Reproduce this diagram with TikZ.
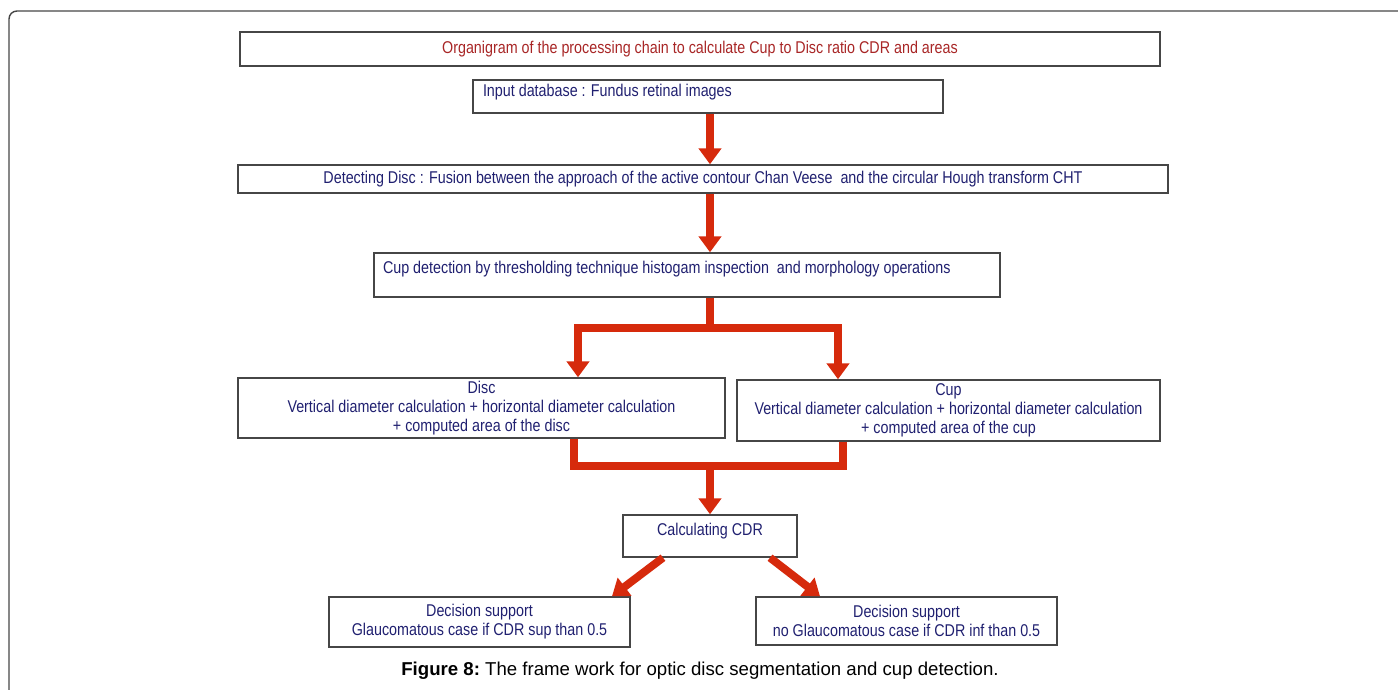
\documentclass[tikz,border=0pt]{standalone}
\usepackage{fontspec}
\setmainfont{Liberation Sans}
\newfontfamily\boxfont[FakeStretch=0.84]{Liberation Sans}
\usetikzlibrary{arrows.meta}

\definecolor{flowred}{RGB}{214,42,12}
\definecolor{titlered}{RGB}{168,38,38}
\definecolor{boxblue}{RGB}{32,32,112}
\definecolor{framegray}{RGB}{70,70,70}

\tikzset{
  box/.style={draw=framegray, line width=0.8pt, inner sep=0pt, align=center,
    text=boxblue, font=\boxfont\fontsize{9.7}{10.8}\selectfont},
  flowline/.style={draw=flowred, line width=4.5pt, line join=miter},
  flow/.style={flowline, -{Triangle[width=12.5pt,length=9pt]}}
}

\begin{document}
\begin{tikzpicture}

\useasboundingbox (0,0) rectangle (27.96,-13.8);
\draw[framegray, line width=0.8pt, rounded corners=0.16cm] (0.18,-13.8) -- (0.18,-0.22) -- (27.96,-0.22);

\coordinate (axis) at (14.2,0);

\node[box, minimum width=18.4cm, minimum height=0.68cm, text=titlered] (title) at (14.0,-0.98)
  {Organigram of the processing chain to calculate Cup to Disc ratio CDR and areas};
\node[box, minimum width=9.4cm, text width=9.0cm, align=flush left, text height=0.33cm, text depth=0.33cm] (input) at (14.16,-1.93)
  {Input database : Fundus retinal images};
\node[box, minimum width=18.6cm, minimum height=0.56cm] (detect) at (14.06,-3.58)
  {Detecting Disc : Fusion between the approach of the active contour Chan Veese\ \ and the circular Hough transform CHT};
\node[box, minimum width=12.52cm, text width=12.16cm, align=flush left, text height=0.4cm, text depth=0.48cm] (cupdet) at (13.74,-5.5)
  {Cup detection by thresholding technique histogam inspection\ \ and morphology operations};

\node[box, minimum width=9.74cm, minimum height=1.2cm] (disc) at (9.63,-8.16)
  {Disc\\Vertical diameter calculation + horizontal diameter calculation\\+ computed area of the disc};
\node[box, minimum width=8.46cm, minimum height=1.22cm] (cup) at (18.97,-8.21)
  {Cup\\Vertical diameter calculation + horizontal diameter calculation\\+ computed area of the cup};

\node[box, minimum width=3.48cm, text height=0.4cm, text depth=0.44cm] (calc) at (14.2,-10.72)
  {Calculating CDR};

\node[box, minimum width=6.02cm, minimum height=1.0cm] (dleft) at (9.59,-12.44)
  {Decision support\\Glaucomatous case if CDR sup than 0.5};
\node[box, minimum width=6.02cm, minimum height=0.96cm] (dright) at (18.13,-12.42)
  {Decision support\\no Glaucomatous case if CDR inf than 0.5};

\node[font=\fontsize{10.6}{12}\selectfont] (caption) at (14.0,-13.42)
  {\textbf{Figure 8:}~The frame work for optic disc segmentation and cup detection.};

% red flow
\draw[flow] (input.south -| axis) -- (detect.north -| axis);
\draw[flow] (detect.south -| axis) -- (cupdet.north -| axis);

\draw[flowline] (cupdet.south -| axis) -- ++(0,-0.6) coordinate (fork);
\draw[flow] (fork) -| ([xshift=1.93cm]disc.north);
\draw[flow] (fork) -| ([xshift=-2.21cm]cup.north);

\draw[flowline] ([xshift=1.85cm]disc.south) -- ++(0,-0.54) coordinate (join) -| ([xshift=-2.11cm]cup.south);
\draw[flow] (join -| axis) -- (calc.north -| axis);

\draw[flow] ([xshift=-0.94cm]calc.south) -- ([xshift=2.65cm]dleft.north);
\draw[flow] ([xshift=1.2cm]calc.south) -- ([xshift=-1.73cm]dright.north);

\end{tikzpicture}
\end{document}
